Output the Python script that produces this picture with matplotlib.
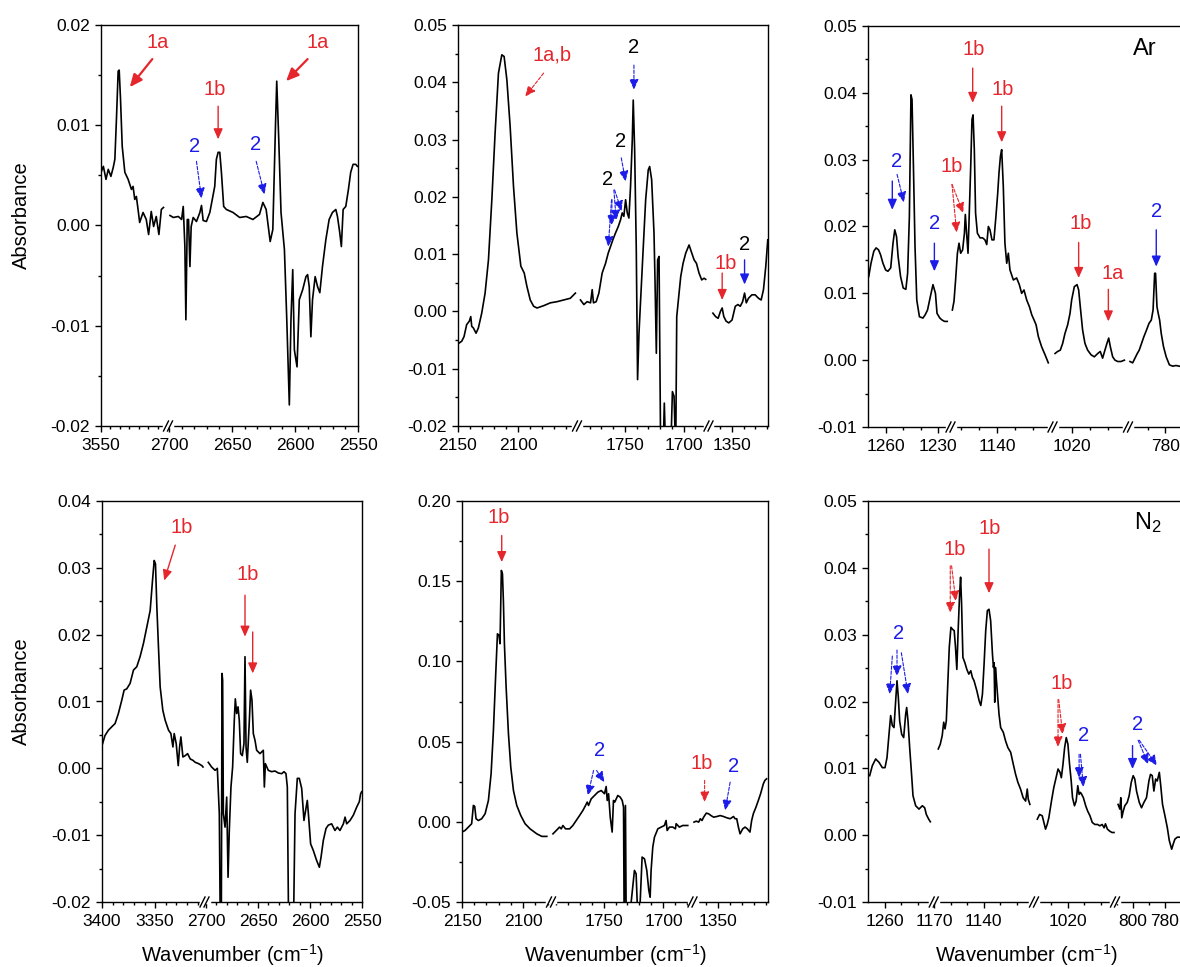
import numpy as np
import matplotlib
matplotlib.use("Agg")
import matplotlib.pyplot as plt
from matplotlib.lines import Line2D
from matplotlib.ticker import MultipleLocator, FormatStrFormatter

plt.rcParams['font.family'] = ['Liberation Sans', 'DejaVu Sans']
plt.rcParams['axes.unicode_minus'] = False
plt.rcParams['mathtext.default'] = 'regular'

# ---- Ar matrix, panel 1 (3550 / 2700-2550)
ar1_w1 = [3550, 3547.5, 3544.7, 3542.3, 3539.5, 3537, 3535.3, 3533.5, 3531.8, 3530.7, 3529.3, 3527.5, 3524.7,
          3521.2, 3517.7, 3516, 3514.2, 3512.5, 3510.7, 3509, 3505.4, 3502, 3499.5, 3496.7, 3494.2, 3491.4,
          3488.6, 3486, 3483.7]
ar1_a1 = [0.0053, 0.0059, 0.0046, 0.0056, 0.0049, 0.0058, 0.0066, 0.0109, 0.0154, 0.0155, 0.0126, 0.0079, 0.0053,
          0.0046, 0.0036, 0.0039, 0.0026, 0.0029, 0.0016, 0.0003, 0.0013, 0.0006, -0.0009, 0.0014, -0.0001, 0.0009,
          -0.0009, 0.0016, 0.0018]
ar1_w2 = [2699.2, 2696.6, 2692.6, 2690, 2688.7, 2687.4, 2686.6, 2685.5, 2684.5, 2683.4, 2682.4, 2680.8, 2678.2,
          2675.5, 2674.2, 2672.9, 2670.3, 2667.6, 2663.7, 2662.4, 2661, 2659.7, 2658.4, 2656.6, 2654.5, 2649.2,
          2643.9, 2638.7, 2633.4, 2628.2, 2625.5, 2622.9, 2619.7, 2617.6, 2615.5, 2614.5, 2612.9, 2611.1, 2608.4,
          2606.6, 2604.5, 2603.2, 2601.8, 2600.5, 2598.4, 2596.6, 2593.9, 2591.3, 2590, 2588.7, 2587.4, 2586.1,
          2584, 2582.1, 2580.3, 2578.2, 2575.5, 2572.9, 2570.3, 2567.6, 2566.3, 2564.5, 2563.2, 2561.8, 2559.7,
          2557.6, 2555.8, 2553.9, 2551.8, 2550.5]
ar1_a2 = [0.0010, 0.0008, 0.0009, 0.0006, 0.0019, -0.0021, -0.0094, 0.0006, 0.0006, -0.0041, -0.0001, 0.0008,
          0.0004, 0.0013, 0.0020, 0.0005, 0.0004, 0.0013, 0.0039, 0.0066, 0.0073, 0.0073, 0.0053, 0.0019, 0.0016,
          0.0013, 0.0008, 0.0009, 0.0006, 0.0011, 0.0023, 0.0016, -0.0016, -0.0004, 0.0099, 0.0144, 0.0086, 0.0013,
          -0.0024, -0.0091, -0.0179, -0.0094, -0.0044, -0.0124, -0.0141, -0.0074, -0.0064, -0.0051, -0.0049,
          -0.0061, -0.0111, -0.0074, -0.0051, -0.0061, -0.0067, -0.0041, -0.0014, 0.0006, 0.0013, 0.0016, 0.0009,
          -0.0007, -0.0021, 0.0016, 0.0019, 0.0036, 0.0053, 0.0061, 0.0061, 0.0059]

# ---- Ar matrix, panel 2 (2150-2050 / 1790-1680 / 1370-1320)
ar2_w1 = [2148.9, 2146.9, 2145, 2142.8, 2140.6, 2139.4, 2138.6, 2137.2, 2135, 2133.1, 2130.3, 2127.5, 2124.7,
          2121.9, 2119.2, 2116.4, 2113.6, 2111.7, 2109.4, 2106.7, 2103.9, 2101.1, 2097.8, 2095, 2092.8, 2090,
          2087.2, 2084.4, 2078.9, 2073.3, 2067.8, 2062.2, 2056.7, 2052.5]
ar2_a1 = [-0.0055, -0.0052, -0.0044, -0.0023, -0.0017, -0.0009, -0.0026, -0.0029, -0.0038, -0.0029, -0.0003,
          0.0032, 0.0090, 0.0195, 0.0311, 0.0416, 0.0448, 0.0445, 0.0404, 0.0323, 0.0218, 0.0137, 0.0079, 0.0067,
          0.0044, 0.0020, 0.0009, 0.0006, 0.0010, 0.0015, 0.0017, 0.0020, 0.0023, 0.0032]
ar2_w2 = [1787.9, 1785, 1782.2, 1779.3, 1777.9, 1776.8, 1774.5, 1772.2, 1769.4, 1766.5, 1764.2, 1762.3, 1760.3,
          1758, 1755.7, 1753.7, 1752.3, 1750.9, 1749.4, 1748, 1746.6, 1745.2, 1743.7, 1742.9, 1741.7, 1740.3,
          1739.2, 1738, 1736.6, 1734.6, 1732.3, 1730.1, 1728.9, 1727.2, 1725.2, 1724.4, 1723.2, 1722.1, 1720.9,
          1719.5, 1717.5, 1716.4, 1715.2, 1711, 1709.5, 1708.1, 1706.7, 1705.8, 1704.4, 1702.4, 1700.4, 1698.1,
          1695.3, 1693, 1691, 1689, 1686.8, 1684.5, 1682.5, 1681.1]
ar2_a2 = [0.0020, 0.0012, 0.0017, 0.0015, 0.0038, 0.0015, 0.0017, 0.0032, 0.0067, 0.0084, 0.0102, 0.0113, 0.0125,
          0.0137, 0.0148, 0.0160, 0.0172, 0.0166, 0.0195, 0.0172, 0.0163, 0.0218, 0.0300, 0.0369, 0.0282, 0.0108,
          -0.0119, -0.0038, 0.0020, 0.0102, 0.0195, 0.0247, 0.0253, 0.0230, 0.0137, 0.0061, -0.0073, 0.0090,
          0.0096, -0.025, -0.025, -0.0160, -0.025, -0.025, -0.0140, -0.0148, -0.025, -0.0009, 0.0020, 0.0061,
          0.0084, 0.0102, 0.0116, 0.0102, 0.0090, 0.0084, 0.0067, 0.0055, 0.0058, 0.0056]
ar2_w3 = [1366.5, 1364.2, 1362, 1360, 1358.5, 1357.1, 1355.1, 1352.8, 1350, 1347.2, 1344.9, 1342.9, 1340.9,
          1339.2, 1337.7, 1335.8, 1332.9, 1330.1, 1327.2, 1324.9, 1322.9, 1320.9, 1319.2]
ar2_a3 = [-0.0003, -0.0009, -0.0012, 0.0000, 0.0006, -0.0009, -0.0017, -0.0020, -0.0015, 0.0009, 0.0012, 0.0009,
          0.0017, 0.0032, 0.0015, 0.0023, 0.0029, 0.0029, 0.0023, 0.0020, 0.0038, 0.0079, 0.0125]

# ---- Ar matrix, panel 3 (1270-1224 / 1165-1110 / 1030-990 / 800-770)
ar3_w1 = [1269.6, 1268.3, 1266.7, 1265.4, 1264, 1262.9, 1261.5, 1260, 1258.7, 1257.1, 1255.8, 1254.8, 1253.8,
          1252.9, 1251.5, 1250, 1248.5, 1247.5, 1246.5, 1245.6, 1245, 1244.2, 1243.3, 1242.3, 1240.8, 1238.8,
          1237.5, 1236.2, 1234.6, 1233.1, 1231.7, 1230.8, 1229.2, 1227.9, 1226.5, 1225]
ar3_a1 = [0.0125, 0.0145, 0.0163, 0.0168, 0.0165, 0.0158, 0.0145, 0.0135, 0.0133, 0.0138, 0.0175, 0.0195, 0.0185,
          0.0155, 0.0125, 0.0108, 0.0106, 0.0130, 0.0215, 0.0397, 0.0390, 0.0290, 0.0170, 0.0090, 0.0065, 0.0063,
          0.0068, 0.0075, 0.0095, 0.0113, 0.0100, 0.0070, 0.0063, 0.0060, 0.0058, 0.0058]
ar3_w2 = [1164.8, 1163.9, 1163, 1162, 1161.1, 1160.2, 1159.1, 1158.1, 1157.6, 1156.9, 1156.1, 1155.4, 1154.6,
          1153.9, 1153.3, 1152.6, 1151.9, 1150.9, 1149.4, 1148, 1146.7, 1145.7, 1144.8, 1143.9, 1142.8, 1141.7,
          1140.6, 1139.6, 1138.9, 1138.1, 1137.4, 1136.5, 1135.6, 1134.6, 1133.7, 1132.8, 1130.9, 1129.1, 1127.6,
          1126.3, 1125, 1123.5, 1122, 1120.7, 1119.4, 1118.3, 1117, 1115.2, 1113.3, 1111.5]
ar3_a2 = [0.0075, 0.0088, 0.0120, 0.0160, 0.0175, 0.0160, 0.0165, 0.0190, 0.0218, 0.0190, 0.0160, 0.0220, 0.0290,
          0.0360, 0.0367, 0.0315, 0.0220, 0.0190, 0.0183, 0.0183, 0.0180, 0.0173, 0.0200, 0.0195, 0.0180, 0.0180,
          0.0215, 0.0250, 0.0280, 0.0305, 0.0315, 0.0260, 0.0175, 0.0145, 0.0160, 0.0135, 0.0120, 0.0123, 0.0113,
          0.0100, 0.0105, 0.0090, 0.0080, 0.0068, 0.0060, 0.0053, 0.0035, 0.0020, 0.0008, -0.0004]
ar3_w3 = [1029.4, 1028, 1026.5, 1025.2, 1023.9, 1022.4, 1021.1, 1020.2, 1018.7, 1017.2, 1016.3, 1015.4, 1014.1,
          1012.8, 1011.3, 1009.4, 1007.6, 1005.7, 1004.3, 1003, 1001.7, 1000.6, 999.6, 998.7, 997.4, 996.1, 994.6,
          992.8, 990.9]
ar3_a3 = [0.0010, 0.0013, 0.0015, 0.0025, 0.0040, 0.0053, 0.0070, 0.0090, 0.0110, 0.0113, 0.0105, 0.0080, 0.0045,
          0.0025, 0.0015, 0.0008, 0.0005, 0.0010, 0.0013, 0.0003, 0.0015, 0.0025, 0.0033, 0.0020, 0.0005, 0.0000,
          -0.0002, -0.0002, 0.0000]
ar3_w4 = [800, 798.5, 797.2, 795.9, 794.8, 793.5, 792.2, 790.7, 789.3, 788, 787, 786.1, 785.6, 784.8, 784.1, 783.3,
          782.4, 781.1, 779.6, 777.8, 775.9, 774.1, 772.2]
ar3_a4 = [-0.0002, -0.0004, 0.0003, 0.0010, 0.0015, 0.0025, 0.0035, 0.0045, 0.0055, 0.0060, 0.0075, 0.0130,
          0.0130, 0.0080, 0.0070, 0.0060, 0.0040, 0.0020, 0.0005, -0.0007, -0.0009, -0.0008, -0.0009]

# ---- N2 matrix, panel 4 (3400-3305 / 2700-2550)
nit1_w1 = [3400, 3397.2, 3394, 3390.9, 3387.7, 3384.6, 3381.4, 3379.2, 3376.7, 3373.6, 3370.4, 3367.3, 3364.2,
           3361, 3357.9, 3354.7, 3352.5, 3350.9, 3349.7, 3348.4, 3346.9, 3345.3, 3342.8, 3340.6, 3337.4, 3335.2,
           3333.3, 3332.1, 3330.2, 3328.3, 3327, 3325.8, 3323.9, 3321.7, 3319.5, 3317, 3314.5, 3312.3, 3309.1,
           3306, 3305]
nit1_a1 = [0.0034, 0.0049, 0.0057, 0.0062, 0.0067, 0.0082, 0.0102, 0.0117, 0.0119, 0.0127, 0.0147, 0.0152,
           0.0167, 0.0187, 0.0211, 0.0236, 0.0281, 0.0311, 0.0306, 0.0241, 0.0182, 0.0122, 0.0087, 0.0072, 0.0057,
           0.0052, 0.0032, 0.0052, 0.0037, 0.0004, 0.0032, 0.0047, 0.0017, 0.0019, 0.0022, 0.0014, 0.0012, 0.0009,
           0.0007, 0.0004, 0.0002]
nit1_w2 = [2697.8, 2694.6, 2691.3, 2689.1, 2687.2, 2686.2, 2685.3, 2684.6, 2684, 2683.3, 2681.7, 2680.1, 2678.8,
           2677.6, 2676, 2674.4, 2672.8, 2671.8, 2670.5, 2669.2, 2668, 2666.7, 2665.1, 2663.5, 2662.5, 2661.5,
           2660.3, 2658.3, 2657.1, 2655.8, 2654.5, 2652.9, 2651.3, 2648.1, 2644.9, 2643.9, 2642.9, 2640.1, 2636.9,
           2633.7, 2630.4, 2627.2, 2625, 2623.1, 2621.8, 2620.5, 2617.6, 2616, 2614.4, 2612.2, 2610.3, 2608,
           2605.8, 2604.2, 2602.6, 2601.3, 2599.4, 2596.8, 2593.6, 2591, 2589.4, 2587.2, 2584.6, 2582.4, 2579.2,
           2576, 2573.7, 2571.2, 2567.9, 2566.3, 2564.7, 2561.5, 2558.3, 2555.1, 2552.6, 2551.3, 2550.3]
nit1_a2 = [0.0009, 0.0002, -0.0003, 0.0000, -0.0068, -0.025, -0.025, 0.0142, 0.0132, -0.0068,
           -0.0088, -0.0043, -0.0163, -0.0093, -0.0028, 0.0002, 0.0072, 0.0104, 0.0082, 0.0092,
           0.0072, 0.0022, 0.0019, 0.0037, 0.0167, 0.0032, 0.0009, 0.0072, 0.0117, 0.0102,
           0.0052, 0.0042, 0.0027, 0.0022, 0.0027, -0.0028, 0.0007, -0.0003, -0.0005, -0.0004,
           -0.0007, -0.0008, -0.0005, -0.0008, -0.0028, -0.025, -0.025, -0.025, -0.0068, -0.0015,
           -0.0015, -0.0030, -0.0078, -0.0063, -0.0048, -0.0073, -0.0113, -0.0123, -0.0138, -0.0148,
           -0.0133, -0.0108, -0.0090, -0.0085, -0.0083, -0.0093, -0.0088, -0.0093, -0.0083, -0.0073,
           -0.0083, -0.0078, -0.0070, -0.0058, -0.0050, -0.0038, -0.0035]

# ---- N2 matrix, panel 5 (2150-2078 / 1793-1677 / 1370-1308)
nit2_w1 = [2150, 2147.5, 2144.8, 2142.1, 2140.7, 2139.6, 2138.5, 2136.6, 2133.9, 2131.1, 2128.4, 2126.2, 2124.3,
           2122.4, 2121, 2119.7, 2118.9, 2117.8, 2116.9, 2116.1, 2115.3, 2113.9, 2112, 2110.1, 2107.9, 2105.2,
           2101.9, 2098.4, 2094.3, 2088.8, 2084.7, 2080.6]
nit2_a1 = [-0.0064, -0.0054, -0.0033, -0.0012, 0.0102, 0.0096, 0.0019, 0.0008, 0.0019, 0.0050, 0.0133, 0.0299,
           0.0569, 0.0923, 0.1172, 0.1162, 0.1110, 0.1567, 0.1546, 0.1370, 0.1110, 0.0840, 0.0549, 0.0341, 0.0195,
           0.0102, 0.0039, -0.0012, -0.0044, -0.0075, -0.0091, -0.0091]
nit2_w2 = [1792.2, 1789.4, 1786.7, 1785.3, 1783.9, 1781.7, 1778.3, 1775.6, 1772.8, 1770, 1767.2, 1765, 1763.6,
           1762.5, 1760.3, 1757.5, 1754.7, 1751.9, 1749.2, 1747.8, 1746.9, 1745.8, 1744.4, 1742.8, 1741.7, 1740.6,
           1739.4, 1738.1, 1736.1, 1734.4, 1733.3, 1732.8, 1731.7, 1731.1, 1728.3, 1724.2, 1722.8, 1721.4, 1720,
           1717.8, 1715.8, 1713.9, 1712.2, 1711.1, 1710.3, 1708.9, 1707.5, 1704.7, 1701.9, 1699.2, 1697.8, 1696.9,
           1695, 1692.2, 1690, 1689.4, 1686.7, 1683.9, 1679.7]
nit2_a2 = [-0.0075, -0.0054, -0.0033, -0.0044, -0.0023, -0.0044, -0.0044, -0.0023, 0.0008, 0.0039,
           0.0071, 0.0102, 0.0123, 0.0102, 0.0143, 0.0164, 0.0185, 0.0195, 0.0175, 0.0220,
           0.0133, 0.0175, 0.0029, -0.0064, 0.0133, 0.0123, 0.0143, 0.0164, 0.0154, 0.0133,
           0.0091, -0.06, 0.0102, -0.06, -0.06, -0.0303, -0.0324, -0.06, -0.06, -0.0220,
           -0.0231, -0.0303, -0.0428, -0.0470, -0.0303, -0.0158, -0.0096, -0.0044, -0.0033, -0.0023,
           0.0008, -0.0054, -0.0033, -0.0033, -0.0044, -0.0012, -0.0033, -0.0023, -0.0023]
nit2_w3 = [1370, 1368.1, 1366.1, 1364.7, 1363.3, 1361.9, 1359.7, 1357.8, 1355.8, 1353.6, 1350.8, 1348.1, 1345.3,
           1342.5, 1339.7, 1336.9, 1335.6, 1334.2, 1332.8, 1331.4, 1329.2, 1327.2, 1325.3, 1323.1, 1321.7, 1320.3,
           1318.1, 1316.1, 1314.2, 1311.9, 1310.6, 1309.2]
nit2_a3 = [-0.0002, 0.0004, -0.0002, 0.0019, 0.0008, 0.0029, 0.0054, 0.0050, 0.0039, 0.0029, 0.0033, 0.0039,
           0.0033, 0.0025, 0.0019, 0.0033, 0.0019, 0.0019, -0.0033, -0.0075, -0.0044, -0.0033, -0.0044, -0.0064,
           0.0008, 0.0050, 0.0091, 0.0133, 0.0175, 0.0237, 0.0258, 0.0268]

# ---- N2 matrix, panel 6 (1270-1231 / 1170-1110 / 1040-992 / 810-768)
nit3_w1 = [1269, 1267.4, 1265.4, 1263.4, 1261.4, 1259.8, 1258.6, 1257.4, 1256.4, 1255.4, 1254.4, 1253.4, 1252.6,
           1251.8, 1251, 1249.8, 1248.6, 1247.4, 1246.8, 1246, 1245, 1244, 1243, 1241.4, 1239.4, 1237.4, 1236,
           1235, 1233.6, 1232.6]
nit3_a1 = [0.0089, 0.0104, 0.0114, 0.0109, 0.0101, 0.0101, 0.0116, 0.0151, 0.0179, 0.0164, 0.0161, 0.0201,
           0.0231, 0.0206, 0.0171, 0.0151, 0.0146, 0.0181, 0.0191, 0.0171, 0.0131, 0.0096, 0.0059, 0.0044, 0.0039,
           0.0044, 0.0041, 0.0031, 0.0024, 0.0020]
nit3_w2 = [1167.7, 1166.5, 1165.3, 1164.4, 1163.6, 1162.8, 1162, 1161, 1160, 1159, 1158, 1157.2, 1156.4, 1155.6,
           1154.7, 1154.1, 1153.5, 1152.7, 1151.5, 1150.3, 1149.1, 1147.9, 1146.9, 1145.9, 1144.2, 1142.8, 1141.8,
           1140.8, 1139.8, 1138.8, 1137.8, 1136.8, 1135.8, 1134.7, 1134.1, 1133.7, 1133.3, 1132.9, 1132.1, 1130.7,
           1129.7, 1128.1, 1126.7, 1125.3, 1123.6, 1122, 1120.6, 1119.2, 1117.6, 1116, 1114.5, 1113.5, 1112.9,
           1111.9]
nit3_a2 = [0.0129, 0.0136, 0.0149, 0.0169, 0.0159, 0.0171, 0.0221, 0.0281, 0.0311, 0.0308,
           0.0306, 0.0281, 0.0248, 0.0306, 0.0361, 0.0386, 0.0346, 0.0266, 0.0258, 0.0248,
           0.0241, 0.0246, 0.0236, 0.0231, 0.0216, 0.0201, 0.0194, 0.0211, 0.0256, 0.0306,
           0.0336, 0.0338, 0.0321, 0.0271, 0.0251, 0.0258, 0.0199, 0.0251, 0.0226, 0.0181,
           0.0161, 0.0154, 0.0141, 0.0131, 0.0124, 0.0106, 0.0091, 0.0079, 0.0069, 0.0056,
           0.0051, 0.0069, 0.0054, 0.0046]
nit3_w3 = [1038.6, 1037.2, 1035.6, 1034.6, 1033.6, 1032.6, 1031.6, 1030, 1028.6, 1027.2, 1026, 1024.8, 1024,
           1023, 1022, 1021, 1020, 1019, 1018, 1017.2, 1016, 1015, 1014, 1013.2, 1012.4, 1011.6, 1010.6, 1009.2,
           1008, 1006.6, 1005.2, 1003.6, 1002, 1000.6, 999.2, 998, 997.2, 996, 994.6, 993.2, 992]
nit3_a3 = [0.0024, 0.0031, 0.0029, 0.0019, 0.0009, 0.0016, 0.0026, 0.0051, 0.0071, 0.0086, 0.0099, 0.0094,
           0.0086, 0.0106, 0.0131, 0.0146, 0.0136, 0.0106, 0.0081, 0.0056, 0.0044, 0.0051, 0.0074, 0.0061, 0.0064,
           0.0061, 0.0056, 0.0044, 0.0036, 0.0029, 0.0019, 0.0016, 0.0016, 0.0014, 0.0016, 0.0011, 0.0017, 0.0009,
           0.0006, 0.0004, 0.0004]
nit3_w4 = [809.2, 808.1, 807.5, 806.9, 806, 805, 803.5, 802.3, 801, 799.8, 798.8, 797.7, 796, 794.6, 793.1, 791.5,
           790, 789, 787.9, 786.9, 785.8, 784.8, 783.5, 782.7, 781.5, 780, 778.5, 777.3, 775.8, 774.8, 773.8,
           772.3, 770.6]
nit3_a4 = [0.0046, 0.0039, 0.0056, 0.0026, 0.0036, 0.0044, 0.0049, 0.0059, 0.0079, 0.0089, 0.0084, 0.0066,
           0.0049, 0.0041, 0.0049, 0.0056, 0.0081, 0.0091, 0.0089, 0.0066, 0.0084, 0.0081, 0.0094, 0.0076, 0.0046,
           0.0029, 0.0011, -0.0008, -0.0021, -0.0013, -0.0006, -0.0003, -0.0003]

RED = '#e5262c'
BLUE = '#1c1ce8'
W, H = 1180, 967


def piecewise(x, xp, fp):
    x = np.asarray(x, dtype=float)
    y = np.interp(x, xp, fp)
    s0 = (fp[1] - fp[0]) / (xp[1] - xp[0])
    s1 = (fp[-1] - fp[-2]) / (xp[-1] - xp[-2])
    y = np.where(x < xp[0], fp[0] + (x - xp[0]) * s0, y)
    y = np.where(x > xp[-1], fp[-1] + (x - xp[-1]) * s1, y)
    return y


def broken_axis(ax, segs):
    # segs: (w_start, w_end, px_start, px_end), wavenumber falls to the right
    ws = np.array([v for s in segs for v in s[:2]], float)
    ps = np.array([v for s in segs for v in s[2:]], float)
    order = np.argsort(ws)
    wx, px = ws[order], -ps[order]
    ax.set_xscale('function', functions=(lambda w: piecewise(w, wx, px),
                                         lambda p: piecewise(p, px, wx)))
    ax.set_xlim(segs[0][0], segs[-1][1])


def arrow(ax, tail, head, color, dashed=False, lw=1.0):
    ls = (0, (3, 1.5)) if dashed else '-'
    ms = 15 if lw > 1.2 else 12.5
    ax.annotate('', xy=head, xytext=tail,
                arrowprops=dict(arrowstyle='-|>,head_length=0.5,head_width=0.22', color=color, lw=lw,
                                linestyle=ls, shrinkA=0, shrinkB=0, mutation_scale=ms))


def draw_panel(fig, top, bottom, segs, ylim, ystep, lines, majors, texts, arrows, ylabel=False, xlabel=False):
    left, right = segs[0][2], segs[-1][3]
    ax = fig.add_axes([left / W, 1 - bottom / H, (right - left) / W, (bottom - top) / H])
    broken_axis(ax, segs)
    for w, a in lines:
        ax.plot(w, a, color='black', lw=1.2)
    ax.set_ylim(*ylim)
    ax.yaxis.set_major_locator(MultipleLocator(ystep))
    ax.yaxis.set_minor_locator(MultipleLocator(ystep / 2))
    ax.yaxis.set_major_formatter(FormatStrFormatter('%.2f'))

    ax.set_xticks(majors)
    ax.set_xticklabels([str(m) for m in majors])
    minors = []
    for s in segs:
        for m in range(int(np.ceil(s[1] / 10.0)) * 10, int(s[0]) + 1, 10):
            if s[1] < m < s[0] and m not in majors:
                minors.append(m)
    ax.set_xticks(minors, minor=True)

    ax.tick_params(which='both', direction='out', top=False, right=False, labelsize=12.5, width=1.0)
    ax.tick_params(which='major', length=4.5)
    ax.tick_params(which='minor', length=2.5)
    ax.tick_params(axis='x', which='major', pad=4.5)
    ax.tick_params(axis='y', which='major', pad=3.5)
    for sp in ax.spines.values():
        sp.set_linewidth(1.0)

    for t, x, y, c, fs in texts:
        ax.text(x, y, t, color=c, fontsize=fs, ha='center', va='center')
    for tail, head, c, dashed, lw in arrows:
        arrow(ax, tail, head, c, dashed, lw)

    if ylabel:
        ax.set_ylabel('Absorbance', fontsize=14.5)
        ax.yaxis.set_label_coords((31 - left) / (right - left), 0.527)
    if xlabel:
        ax.set_xlabel('Wavenumber (cm$^{-1}$)', fontsize=14.5)
        ax.xaxis.label.set_va('baseline')
        ax.xaxis.set_label_coords(0.5, -(962 - bottom) / (bottom - top))

    # break marks on the bottom axis
    for s0, s1 in zip(segs[:-1], segs[1:]):
        x = (s0[3] + s1[2]) / 2.0
        fig.add_artist(Line2D([(x - 4) / W, (x + 4) / W], [1 - bottom / H] * 2, color='white', lw=2.5, zorder=5))
        for off in (-2.0, 2.0):
            fig.add_artist(Line2D([(x + off - 2.5) / W, (x + off + 2.5) / W],
                                  [1 - (bottom + 5) / H, 1 - (bottom - 5) / H], color='black', lw=1.0, zorder=6))
    return ax


fig = plt.figure(figsize=(W / 100, H / 100), dpi=100)
FS = 14.5

# panel 1
draw_panel(fig, 25, 426,
           [(3550, 3480, 101, 167), (2700, 2550, 169, 358)],
           (-0.02, 0.02), 0.01,
           [(ar1_w1, ar1_a1), (ar1_w2, ar1_a2)],
           [3550, 2700, 2650, 2600, 2550],
           [('1a', 3490, 0.0183, RED, FS), ('1b', 2663.7, 0.0136, RED, FS), ('2', 2679.5, 0.0079, BLUE, FS),
            ('2', 2631.3, 0.0081, BLUE, FS), ('1a', 2582, 0.0183, RED, FS)],
           [((3495.6, 0.0166), (3519.5, 0.0138), RED, False, 1.6),
            ((2661, 0.0119), (2661, 0.0086), RED, False, 1.0),
            ((2678.2, 0.0064), (2674.2, 0.0027), BLUE, True, 0.8),
            ((2630.8, 0.0064), (2624.2, 0.0031), BLUE, True, 0.8),
            ((2590, 0.0166), (2607.1, 0.0144), RED, False, 1.6)],
           ylabel=True)

# panel 2
draw_panel(fig, 25, 426,
           [(2150, 2052, 458, 576), (1790, 1680, 578, 707), (1369, 1319, 710, 768)],
           (-0.02, 0.05), 0.01,
           [(ar2_w1, ar2_a1), (ar2_w2, ar2_a2), (ar2_w3, ar2_a3)],
           [2150, 2100, 1750, 1700, 1350],
           [('1a,b', 2072, 0.0448, RED, FS), ('2', 1742.3, 0.0460, 'black', FS), ('2', 1753.7, 0.0297, 'black', FS),
            ('2', 1765.1, 0.0230, 'black', FS), ('1b', 1355.7, 0.0084, RED, FS), ('2', 1339.2, 0.0116, 'black', FS)],
           [((2078.9, 0.0416), (2094.2, 0.0375), RED, True, 0.8),
            ((1742.3, 0.0430), (1742.3, 0.0387), BLUE, True, 0.8),
            ((1753.1, 0.0268), (1749.4, 0.0227), BLUE, True, 0.8),
            ((1761.4, 0.0195), (1764.2, 0.0113), BLUE, True, 0.8),
            ((1761.0, 0.0195), (1761.4, 0.0150), BLUE, True, 0.8),
            ((1759.4, 0.0212), (1757.4, 0.0159), BLUE, True, 0.8),
            ((1758.8, 0.0212), (1752.8, 0.0175), BLUE, True, 0.8),
            ((1358.5, 0.0067), (1358.5, 0.0020), RED, False, 1.0),
            ((1339.2, 0.0090), (1339.2, 0.0047), BLUE, False, 1.0)])

# panel 3
draw_panel(fig, 26, 427,
           [(1270, 1224, 868, 949), (1165, 1110, 952, 1051), (1030, 990, 1054, 1126), (800, 769, 1130, 1185)],
           (-0.01, 0.05), 0.01,
           [(ar3_w1, ar3_a1), (ar3_w2, ar3_a2), (ar3_w3, ar3_a3), (ar3_w4, ar3_a4)],
           [1260, 1230, 1140, 1020, 780],
           [('2', 1253.8, 0.0298, BLUE, FS), ('2', 1232.3, 0.0205, BLUE, FS), ('1b', 1165.5, 0.0290, RED, FS),
            ('1b', 1153.1, 0.0465, RED, FS), ('1b', 1136.9, 0.0405, RED, FS), ('1b', 1015, 0.0204, RED, FS),
            ('1a', 997.4, 0.0130, RED, FS), ('2', 785.2, 0.0223, BLUE, FS), ('Ar', 791.5, 0.0465, 'black', 17)],
           [((1256.2, 0.0268), (1256.2, 0.0225), BLUE, False, 1.0),
            ((1253.5, 0.0278), (1249.6, 0.0236), BLUE, True, 0.8),
            ((1232.3, 0.0175), (1232.3, 0.0133), BLUE, False, 1.0),
            ((1165.2, 0.0263), (1162.4, 0.0191), RED, True, 0.8),
            ((1165.0, 0.0263), (1158.7, 0.0220), RED, True, 0.8),
            ((1153.5, 0.0437), (1153.5, 0.0385), RED, False, 1.0),
            ((1137.4, 0.0380), (1137.4, 0.0326), RED, False, 1.0),
            ((1016.3, 0.0176), (1016.3, 0.0123), RED, False, 1.0),
            ((999.8, 0.0106), (999.8, 0.0058), RED, False, 1.0),
            ((785.2, 0.0195), (785.2, 0.0140), BLUE, False, 1.0)])

# panel 4
draw_panel(fig, 501, 902,
           [(3400, 3305, 102, 203), (2700, 2550, 206, 362)],
           (-0.02, 0.04), 0.01,
           [(nit1_w1, nit1_a1), (nit1_w2, nit1_a2)],
           [3400, 3350, 2700, 2650, 2600, 2550],
           [('1b', 3325.2, 0.0361, RED, FS), ('1b', 2660.3, 0.0290, RED, FS)],
           [((3331.1, 0.0334), (3341.5, 0.0281), RED, False, 1.0),
            ((2662.5, 0.0259), (2662.5, 0.0197), RED, False, 1.0),
            ((2655.1, 0.0204), (2655.1, 0.0142), RED, False, 1.0)],
           ylabel=True, xlabel=True)

# panel 5
draw_panel(fig, 501, 902,
           [(2150, 2078, 462, 550), (1793, 1677, 552, 691), (1370, 1308, 694, 768)],
           (-0.05, 0.20), 0.05,
           [(nit2_w1, nit2_a1), (nit2_w2, nit2_a2), (nit2_w3, nit2_a3)],
           [2150, 2100, 1750, 1700, 1350],
           [('1b', 2120.2, 0.1895, RED, FS), ('2', 1753.3, 0.0445, BLUE, FS), ('1b', 1363.3, 0.0362, RED, FS),
            ('2', 1336.9, 0.0345, BLUE, FS)],
           [((2117.5, 0.1785), (2117.5, 0.1619), RED, False, 1.0),
            ((1758.3, 0.0320), (1763.1, 0.0164), BLUE, True, 0.8),
            ((1755.8, 0.0320), (1749.2, 0.0247), BLUE, True, 0.8),
            ((1361.1, 0.0258), (1361.1, 0.0123), RED, True, 0.8),
            ((1339.7, 0.0247), (1343.9, 0.0071), BLUE, True, 0.8)],
           xlabel=True)

# panel 6
draw_panel(fig, 501, 902,
           [(1270, 1231, 868, 933), (1170, 1110, 934.5, 1033), (1040, 992, 1035, 1114), (810.5, 767.5, 1116, 1185)],
           (-0.01, 0.05), 0.01,
           [(nit3_w1, nit3_a1), (nit3_w2, nit3_a2), (nit3_w3, nit3_a3), (nit3_w4, nit3_a4)],
           [1260, 1170, 1140, 1020, 800, 780],
           [('2', 1251.4, 0.0301, BLUE, FS), ('1b', 1157.6, 0.0428, RED, FS), ('1b', 1136.2, 0.0459, RED, FS),
            ('1b', 1024, 0.0227, RED, FS), ('2', 1010.6, 0.0149, BLUE, FS), ('2', 797.3, 0.0166, BLUE, FS),
            ('N$_2$', 790.4, 0.0468, 'black', 17)],
           [((1255.4, 0.0268), (1257.0, 0.0211), BLUE, True, 0.8),
            ((1252.6, 0.0277), (1252.6, 0.0238), BLUE, True, 0.8),
            ((1250.0, 0.0273), (1246.0, 0.0211), BLUE, True, 0.8),
            ((1160.4, 0.0403), (1160.4, 0.0333), RED, True, 0.8),
            ((1159.6, 0.0403), (1157.0, 0.0350), RED, True, 0.8),
            ((1136.8, 0.0428), (1136.8, 0.0362), RED, False, 1.0),
            ((1026.0, 0.0203), (1026.0, 0.0132), RED, True, 0.8),
            ((1025.6, 0.0203), (1023.2, 0.0151), RED, True, 0.8),
            ((1013.2, 0.0121), (1013.2, 0.0086), BLUE, True, 0.8),
            ((1012.4, 0.0121), (1010.6, 0.0072), BLUE, True, 0.8),
            ((800.2, 0.0134), (800.2, 0.0099), BLUE, False, 1.0),
            ((796.7, 0.0142), (790.4, 0.0106), BLUE, True, 0.8),
            ((796.0, 0.0142), (785.0, 0.0104), BLUE, True, 0.8)],
           xlabel=True)

fig.savefig('out.png', dpi=100)
